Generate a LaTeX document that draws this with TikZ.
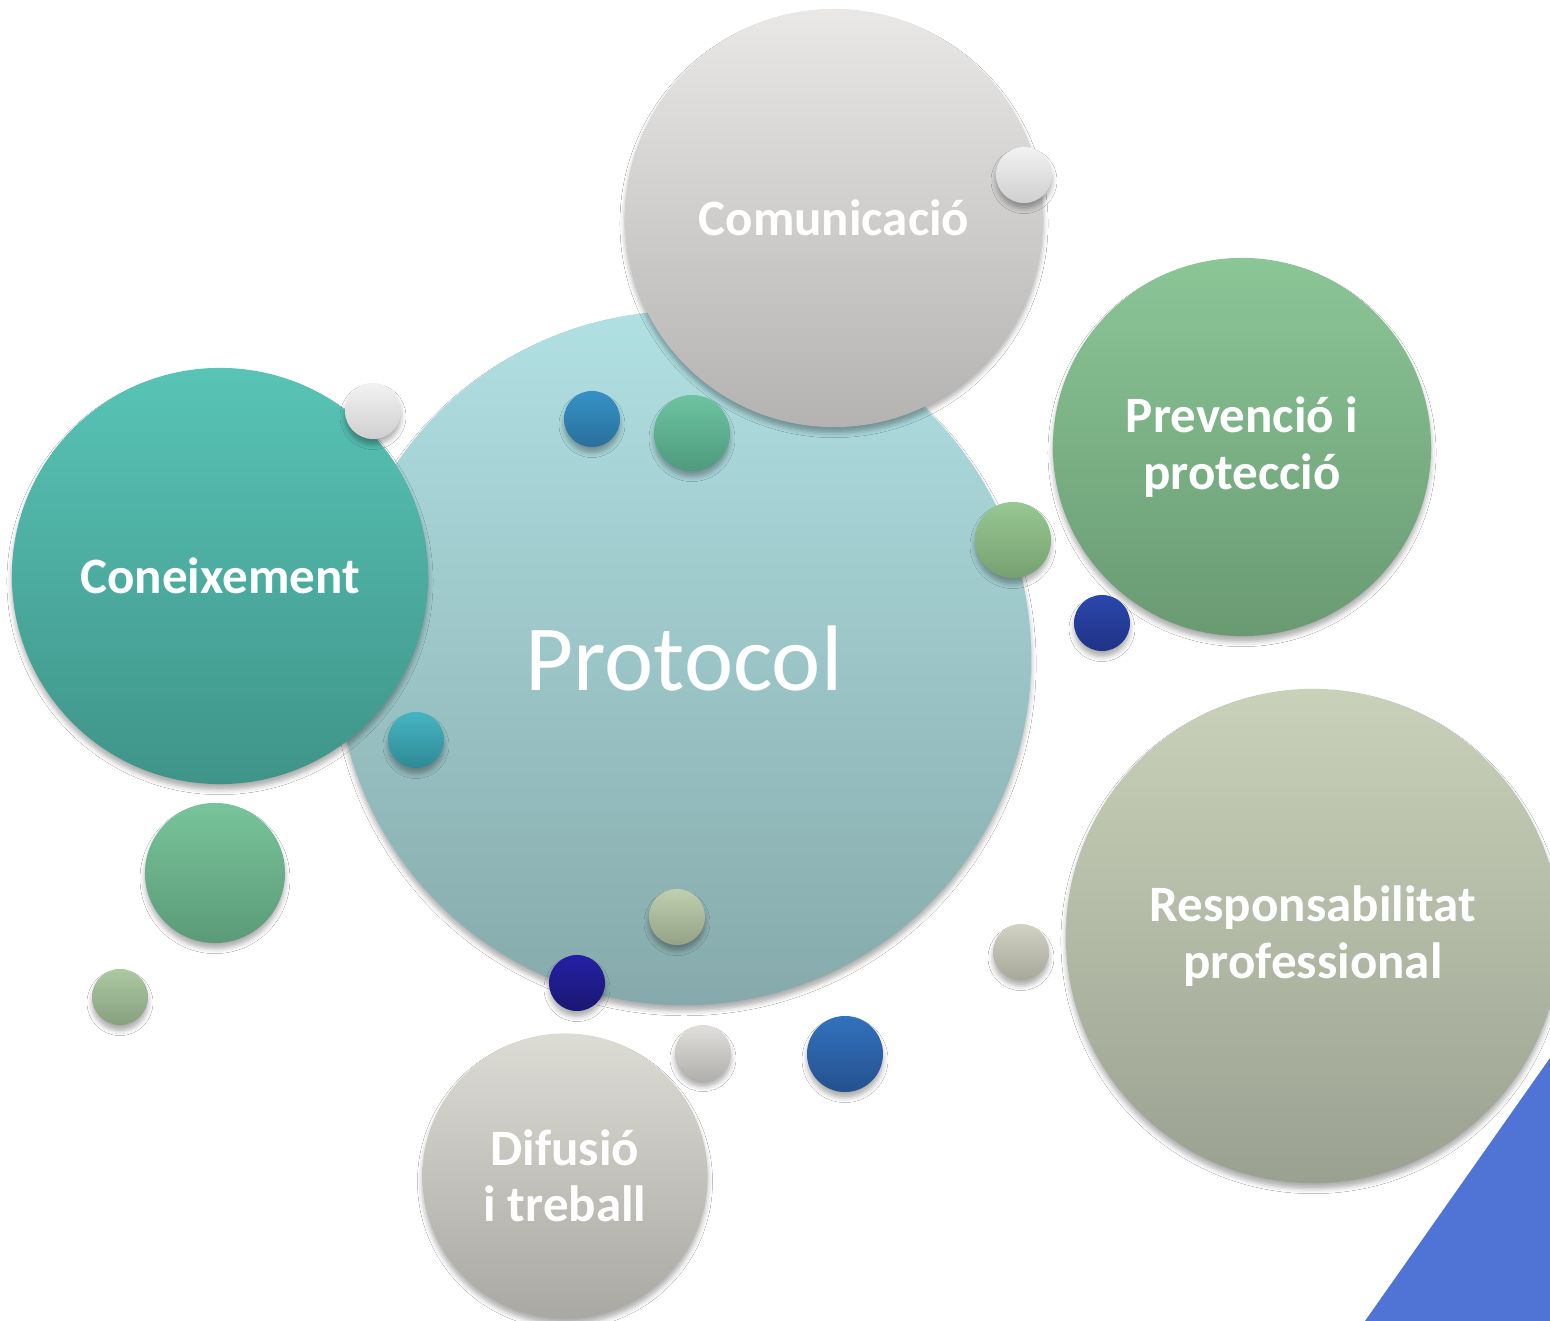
\documentclass[tikz,border=0pt]{standalone}
\usepackage{fontspec}
\setmainfont{Carlito}
\usetikzlibrary{shadows.blur}

% big bubbles
\definecolor{protT}{HTML}{B1E0E3}\definecolor{protB}{HTML}{86AAAB}
\definecolor{comT}{HTML}{E9E8E7}\definecolor{comB}{HTML}{B5B3B2}
\definecolor{conT}{HTML}{58C4B6}\definecolor{conB}{HTML}{3F9488}
\definecolor{preT}{HTML}{8BC697}\definecolor{preB}{HTML}{6A9A72}
\definecolor{resT}{HTML}{CAD1B9}\definecolor{resB}{HTML}{9AA191}
\definecolor{difT}{HTML}{DCDCD5}\definecolor{difB}{HTML}{A9A8A2}
% small dots
\definecolor{bluT}{HTML}{3592C6}\definecolor{bluB}{HTML}{2A6F9B}
\definecolor{tgrT}{HTML}{6CC3A0}\definecolor{tgrB}{HTML}{4F9A7E}
\definecolor{lgrT}{HTML}{98C893}\definecolor{lgrB}{HTML}{76A070}
\definecolor{dblT}{HTML}{2B47AC}\definecolor{dblB}{HTML}{1F3386}
\definecolor{tealT}{HTML}{46B4C2}\definecolor{tealB}{HTML}{2F8A95}
\definecolor{grnT}{HTML}{78C49A}\definecolor{grnB}{HTML}{5B9A78}
\definecolor{sgrT}{HTML}{ABC9A2}\definecolor{sgrB}{HTML}{87A07F}
\definecolor{sagT}{HTML}{C0CFB0}\definecolor{sagB}{HTML}{94A285}
\definecolor{navT}{HTML}{2420A5}\definecolor{navB}{HTML}{1A1770}
\definecolor{lgyT}{HTML}{E0DFDC}\definecolor{lgyB}{HTML}{B0AFAB}
\definecolor{mblT}{HTML}{3172BD}\definecolor{mblB}{HTML}{25508E}
\definecolor{gyT}{HTML}{D2D2C4}\definecolor{gyB}{HTML}{A7A89A}
\definecolor{whT}{HTML}{F2F2F2}\definecolor{whB}{HTML}{CFCFCF}
\definecolor{cornerBlue}{HTML}{4F74D6}

\begin{document}
\begin{tikzpicture}[x=0.01cm, y=-0.01cm,
    bub/.style n args={3}{circle, inner sep=0pt, minimum size=#1,
        top color=#2, bottom color=#3,
        blur shadow={shadow xshift=0pt, shadow yshift=-1.6pt,
            shadow blur radius=1.4pt, shadow opacity=32}},
    lbl/.style={text=white, align=center,
        font=\fontsize{14.5}{16}\selectfont\bfseries}]
        \fill[white] (0,0) rectangle (1550,1321);
        \useasboundingbox (0,0) rectangle (1550,1321);

        \node[bub={6.94cm}{protT}{protB}, text=white,
              font=\fontsize{26.5}{30}\selectfont] (P) at (684, 658) {Protocol};
        \node[bub={4.18cm}{comT}{comB}, lbl] (C) at (834, 218) {Comunicació};
        \node[bub={4.16cm}{conT}{conB}, lbl] (K) at (220, 576) {Coneixement};
        \node[bub={3.78cm}{preT}{preB}, lbl] (PP) at (1242, 447) {Prevenció i\\protecció};
        \node[bub={4.94cm}{resT}{resB}, lbl] (RP) at (1313, 936) {Responsabilitat\\professional};
        \node[bub={2.85cm}{difT}{difB}, lbl] (DT) at (565, 1176) {Difusió\\i treball};

        \node[bub={0.56cm}{whT}{whB}] (d1) at (1024, 175) {};
        \node[bub={0.56cm}{whT}{whB}] (d2) at (373, 411) {};
        \node[bub={0.56cm}{bluT}{bluB}] (d3) at (592, 419) {};
        \node[bub={0.76cm}{tgrT}{tgrB}] (d4) at (692, 433) {};
        \node[bub={0.76cm}{lgrT}{lgrB}] (d5) at (1013, 540) {};
        \node[bub={0.56cm}{dblT}{dblB}] (d6) at (1102, 623) {};
        \node[bub={0.56cm}{tealT}{tealB}] (d7) at (416, 740) {};
        \node[bub={1.40cm}{grnT}{grnB}] (d8) at (215, 873) {};
        \node[bub={0.56cm}{sgrT}{sgrB}] (d9) at (120, 997) {};
        \node[bub={0.56cm}{sagT}{sagB}] (d10) at (677, 917) {};
        \node[bub={0.56cm}{navT}{navB}] (d11) at (577, 983) {};
        \node[bub={0.56cm}{lgyT}{lgyB}] (d12) at (703, 1053) {};
        \node[bub={0.76cm}{mblT}{mblB}] (d13) at (845, 1054) {};
        \node[bub={0.56cm}{gyT}{gyB}] (d14) at (1021, 952) {};

        \fill[cornerBlue] (1365, 1321) -- (1550, 1058) -- (1550, 1321) -- cycle;
\end{tikzpicture}
\end{document}
